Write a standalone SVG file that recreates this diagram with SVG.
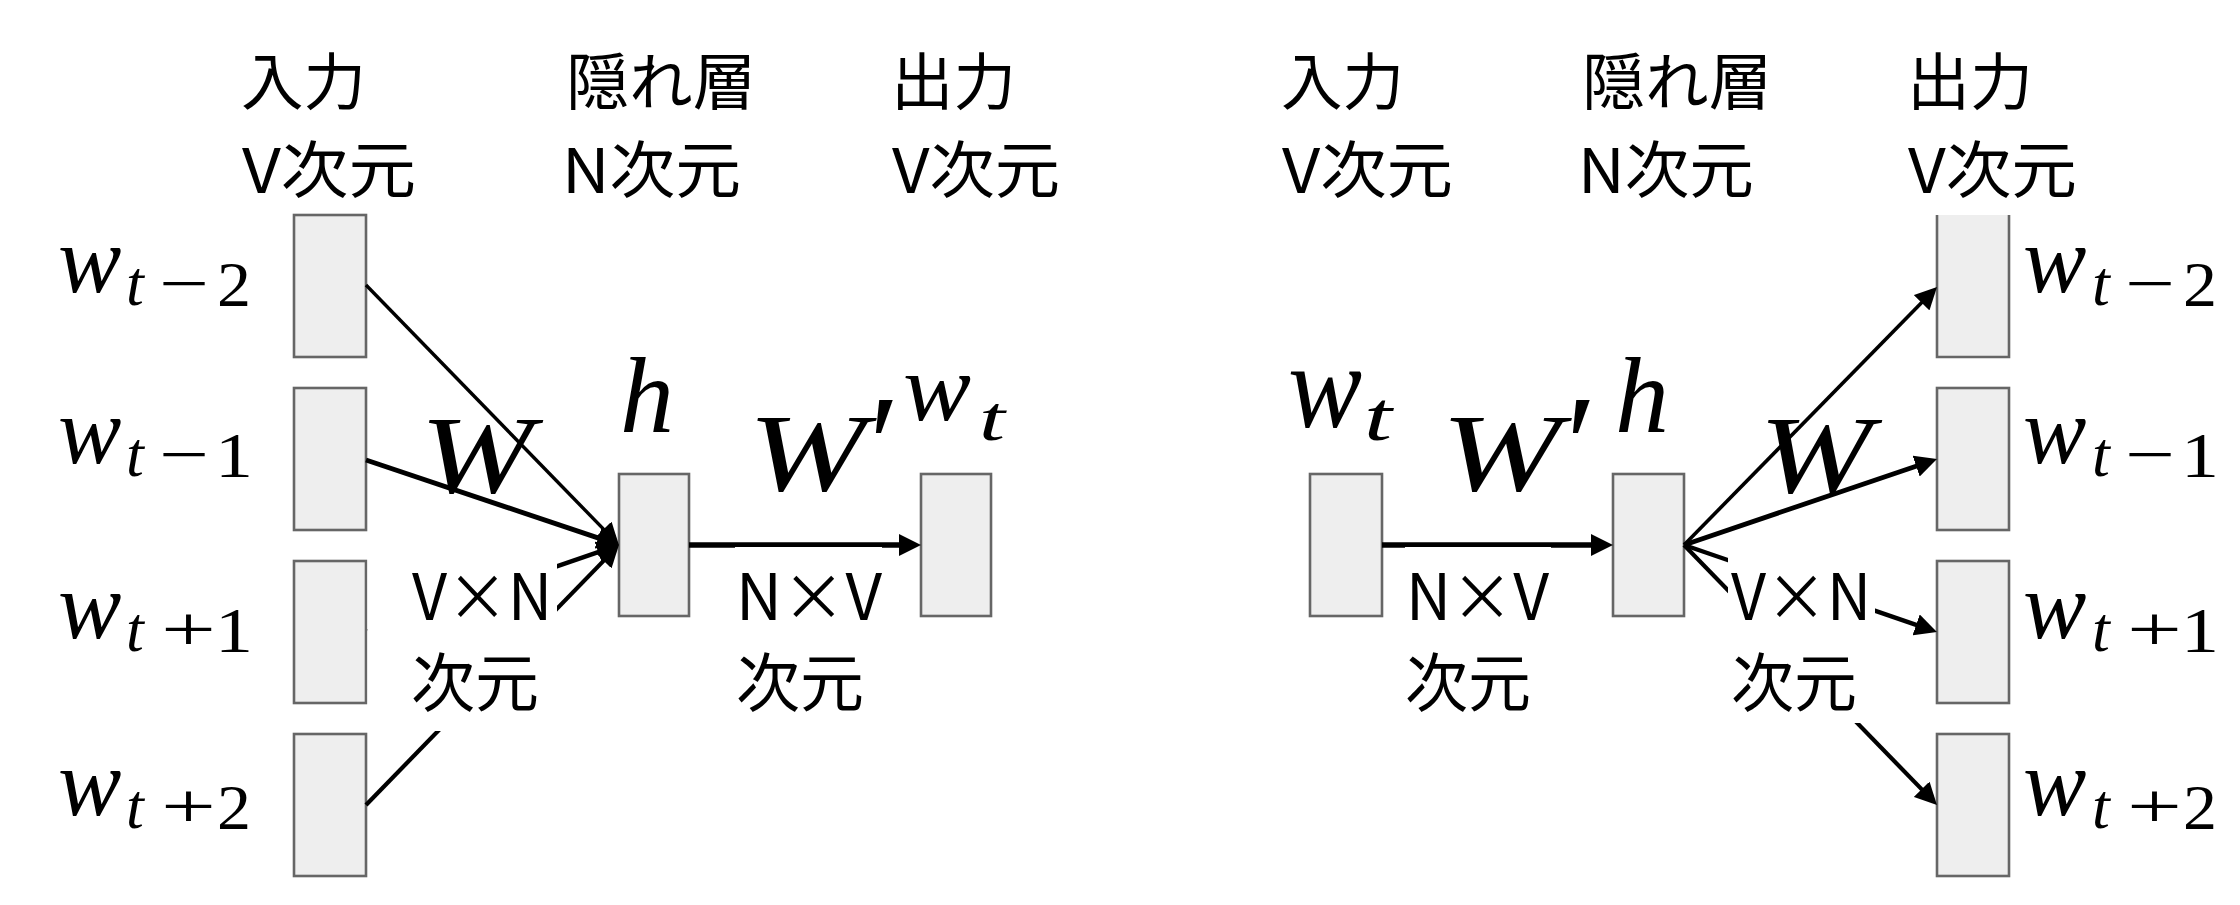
<svg xmlns="http://www.w3.org/2000/svg" width="2240" height="905" viewBox="0 0 2240 905">
<style>
.box{fill:#eeeeee;stroke:#666666;stroke-width:2.6}
.jp{font-family:"Noto Sans CJK JP","Noto Sans",sans-serif;font-size:62px;fill:#000}
.jm{font-family:"Noto Sans CJK JP","Noto Sans",sans-serif;font-size:64px;fill:#000}
.mi{font-family:"Liberation Serif","DejaVu Serif",serif;font-style:italic;fill:#000}
.mu{font-family:"Liberation Serif","DejaVu Serif",serif;font-style:normal;fill:#000}
.w{font-size:95px}
.s{font-size:64px}
.big{font-size:110px}
.conn line{stroke:#000;fill:none}
.bg{fill:#ffffff}
</style>
<defs>
<marker id="ah" markerUnits="userSpaceOnUse" markerWidth="22" markerHeight="22" refX="10" refY="11" orient="auto">
<path d="M0,0 L22,11 L0,22 z" fill="#000"/>
</marker>
</defs>
<rect width="2240" height="905" fill="#ffffff"/>

<!-- header labels -->
<g id="hdr-left">
<text class="jp" x="241" y="105" textLength="125" lengthAdjust="spacingAndGlyphs">入力</text>
<text class="jp" x="242" y="193" textLength="174" lengthAdjust="spacingAndGlyphs">V次元</text>
<text class="jp" x="566" y="105" textLength="190" lengthAdjust="spacingAndGlyphs">隠れ層</text>
<text class="jp" x="562" y="193" textLength="179" lengthAdjust="spacingAndGlyphs">N次元</text>
<text class="jp" x="891" y="105" textLength="125" lengthAdjust="spacingAndGlyphs">出力</text>
<text class="jp" x="892" y="193" textLength="168" lengthAdjust="spacingAndGlyphs">V次元</text>
</g>
<g id="hdr-right">
<text class="jp" x="1281" y="105" textLength="123" lengthAdjust="spacingAndGlyphs">入力</text>
<text class="jp" x="1282" y="193" textLength="171" lengthAdjust="spacingAndGlyphs">V次元</text>
<text class="jp" x="1582" y="105" textLength="190" lengthAdjust="spacingAndGlyphs">隠れ層</text>
<text class="jp" x="1578" y="193" textLength="176" lengthAdjust="spacingAndGlyphs">N次元</text>
<text class="jp" x="1907" y="105" textLength="126" lengthAdjust="spacingAndGlyphs">出力</text>
<text class="jp" x="1908" y="193" textLength="169" lengthAdjust="spacingAndGlyphs">V次元</text>
</g>

<!-- left panel (CBOW) nodes -->
<g id="cbow-in-tm2">
<rect class="box" x="294" y="215" width="72" height="142"/>
<text class="mi w" x="58" y="292">w</text><text class="mi s" x="126" y="305">t</text><text class="mu s" x="159" y="305" textLength="50" lengthAdjust="spacingAndGlyphs">−</text><text class="mu s" x="217" y="306" textLength="34" lengthAdjust="spacingAndGlyphs">2</text>
</g>
<g id="cbow-in-tm1">
<rect class="box" x="294" y="388" width="72" height="142"/>
<text class="mi w" x="58" y="463">w</text><text class="mi s" x="126" y="476">t</text><text class="mu s" x="159" y="476" textLength="50" lengthAdjust="spacingAndGlyphs">−</text><text class="mu s" x="215" y="477" textLength="38" lengthAdjust="spacingAndGlyphs">1</text>
</g>
<g id="cbow-in-tp1">
<rect class="box" x="294" y="561" width="72" height="142"/>
<text class="mi w" x="58" y="638">w</text><text class="mi s" x="126" y="651">t</text><text class="mu s" x="161" y="651" textLength="55" lengthAdjust="spacingAndGlyphs">+</text><text class="mu s" x="215" y="652" textLength="38" lengthAdjust="spacingAndGlyphs">1</text>
</g>
<g id="cbow-in-tp2">
<rect class="box" x="294" y="734" width="72" height="142"/>
<text class="mi w" x="58" y="815">w</text><text class="mi s" x="126" y="828">t</text><text class="mu s" x="161" y="828" textLength="55" lengthAdjust="spacingAndGlyphs">+</text><text class="mu s" x="217" y="829" textLength="34" lengthAdjust="spacingAndGlyphs">2</text>
</g>
<g id="cbow-hidden">
<rect class="box" x="619" y="474" width="70" height="142"/>
<text class="mi" font-size="108" x="620" y="432">h</text>
</g>
<g id="cbow-out">
<rect class="box" x="921" y="474" width="70" height="142"/>
<text class="mi" font-size="95" x="903" y="420" textLength="68" lengthAdjust="spacingAndGlyphs">w</text><text class="mi s" x="979" y="440" textLength="26" lengthAdjust="spacingAndGlyphs">t</text>
</g>

<!-- right panel (skip-gram) nodes -->
<g id="sg-in">
<rect class="box" x="1310" y="474" width="72" height="142"/>
<text class="mi" font-size="120" x="1288" y="427" textLength="74" lengthAdjust="spacingAndGlyphs">w</text><text class="mi" font-size="70" x="1364" y="440" textLength="28" lengthAdjust="spacingAndGlyphs">t</text>
</g>
<g id="sg-hidden">
<rect class="box" x="1613" y="474" width="71" height="142"/>
<text class="mi" font-size="108" x="1615" y="432">h</text>
</g>
<g id="sg-out-tm2">
<rect x="1937" y="215" width="72" height="142" fill="#eeeeee"/>
<path d="M1937,215 V357 H2009 V215" fill="none" stroke="#666666" stroke-width="2.6"/>
<text class="mi w" x="2023" y="292">w</text><text class="mi s" x="2092" y="305">t</text><text class="mu s" x="2125" y="305" textLength="50" lengthAdjust="spacingAndGlyphs">−</text><text class="mu s" x="2183" y="306" textLength="34" lengthAdjust="spacingAndGlyphs">2</text>
</g>
<g id="sg-out-tm1">
<rect class="box" x="1937" y="388" width="72" height="142"/>
<text class="mi w" x="2023" y="463">w</text><text class="mi s" x="2092" y="476">t</text><text class="mu s" x="2125" y="476" textLength="50" lengthAdjust="spacingAndGlyphs">−</text><text class="mu s" x="2181" y="477" textLength="38" lengthAdjust="spacingAndGlyphs">1</text>
</g>
<g id="sg-out-tp1">
<rect class="box" x="1937" y="561" width="72" height="142"/>
<text class="mi w" x="2023" y="638">w</text><text class="mi s" x="2092" y="651">t</text><text class="mu s" x="2127" y="651" textLength="55" lengthAdjust="spacingAndGlyphs">+</text><text class="mu s" x="2181" y="652" textLength="38" lengthAdjust="spacingAndGlyphs">1</text>
</g>
<g id="sg-out-tp2">
<rect class="box" x="1937" y="734" width="72" height="142"/>
<text class="mi w" x="2023" y="815">w</text><text class="mi s" x="2092" y="828">t</text><text class="mu s" x="2127" y="828" textLength="55" lengthAdjust="spacingAndGlyphs">+</text><text class="mu s" x="2183" y="829" textLength="34" lengthAdjust="spacingAndGlyphs">2</text>
</g>

<!-- connectors -->
<g id="connectors" class="conn">
<line x1="366" y1="285" x2="610.6" y2="536.4" stroke-width="3.4" marker-end="url(#ah)"/>
<line x1="366" y1="460" x2="607.6" y2="541.2" stroke-width="5" marker-end="url(#ah)"/>
<line x1="368" y1="631.3" x2="607.6" y2="548.9" stroke-width="4.6" marker-end="url(#ah)"/>
<line x1="366" y1="805" x2="610.6" y2="553.6" stroke-width="4.2" marker-end="url(#ah)"/>
<line x1="689" y1="545" x2="909" y2="545" stroke-width="5.5" marker-end="url(#ah)"/>
<line x1="1382" y1="545" x2="1601" y2="545" stroke-width="5.5" marker-end="url(#ah)"/>
<line x1="1684" y1="545" x2="1928.6" y2="295.6" stroke-width="3.6" marker-end="url(#ah)"/>
<line x1="1684" y1="545" x2="1925.6" y2="462.9" stroke-width="4.8" marker-end="url(#ah)"/>
<line x1="1684" y1="545" x2="1925.6" y2="628.1" stroke-width="4.4" marker-end="url(#ah)"/>
<line x1="1684" y1="545" x2="1928.6" y2="796.4" stroke-width="4.2" marker-end="url(#ah)"/>
</g>

<!-- weight labels -->
<g id="cbow-W">
<text class="mi big" x="420" y="492" textLength="113" lengthAdjust="spacingAndGlyphs">W</text>
<rect class="bg" x="367.5" y="556" width="189.5" height="175"/>
<text class="jm" x="412" y="620" textLength="140" lengthAdjust="spacingAndGlyphs">V×N</text>
<text class="jm" x="411" y="706" textLength="128" lengthAdjust="spacingAndGlyphs">次元</text>
</g>
<g id="cbow-Wp">
<text class="mi big" x="748" y="490" textLength="118" lengthAdjust="spacingAndGlyphs">W</text><text class="mu" font-size="140" x="869" y="492">′</text>
<rect class="bg" x="735" y="547" width="147" height="173"/>
<text class="jm" x="736" y="620" textLength="146" lengthAdjust="spacingAndGlyphs">N×V</text>
<text class="jm" x="736" y="706" textLength="128" lengthAdjust="spacingAndGlyphs">次元</text>
</g>
<g id="sg-Wp">
<text class="mi big" x="1441" y="490" textLength="120" lengthAdjust="spacingAndGlyphs">W</text><text class="mu" font-size="140" x="1566" y="492">′</text>
<rect class="bg" x="1405" y="547" width="146" height="173"/>
<text class="jm" x="1406" y="620" textLength="143" lengthAdjust="spacingAndGlyphs">N×V</text>
<text class="jm" x="1405" y="706" textLength="126" lengthAdjust="spacingAndGlyphs">次元</text>
</g>
<g id="sg-W">
<text class="mi big" x="1759" y="492" textLength="113" lengthAdjust="spacingAndGlyphs">W</text>
<rect class="bg" x="1728" y="556" width="147" height="167"/>
<text class="jm" x="1731" y="620" textLength="140" lengthAdjust="spacingAndGlyphs">V×N</text>
<text class="jm" x="1731" y="706" textLength="126" lengthAdjust="spacingAndGlyphs">次元</text>
</g>
</svg>
